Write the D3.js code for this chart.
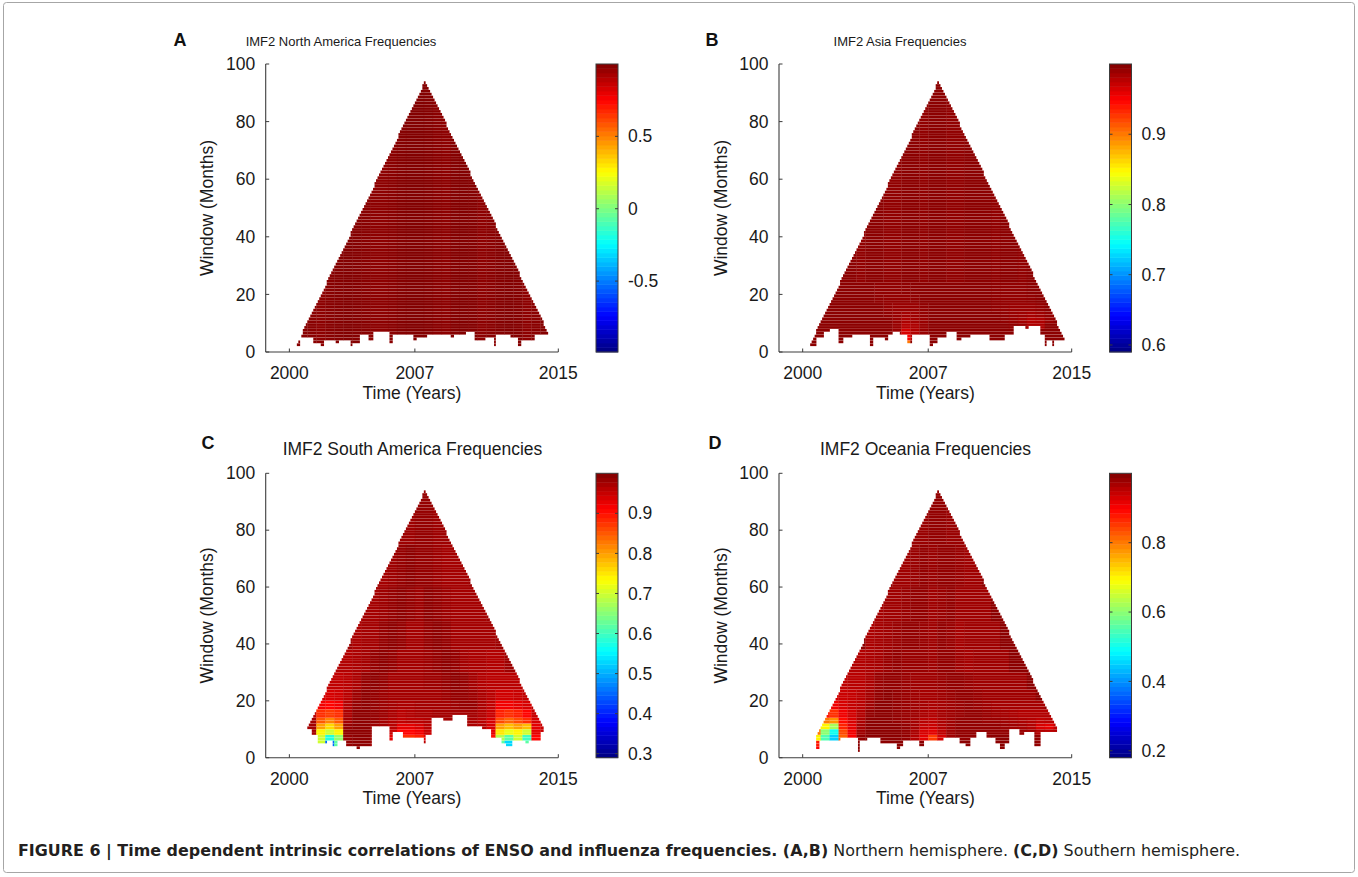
<!DOCTYPE html>
<html>
<head>
<meta charset="utf-8">
<script src="https://cdn.jsdelivr.net/npm/d3@7"></script>
<style>
  html, body { margin: 0; padding: 0; background: #fff; }
  svg { display: block; font-family: "Liberation Sans", Arial, Helvetica, sans-serif; }
</style>
</head>
<body>
<svg id="fig" width="1358" height="877"></svg>
<script>
// ---------------- data ----------------
const panelLetters = ["A", "B", "C", "D"];
const panelTitles = ["IMF2 North America Frequencies", "IMF2 Asia Frequencies",
                     "IMF2 South America Frequencies", "IMF2 Oceania Frequencies"];
const xTickYears = [2000, 2007, 2015];
const yTickWindows = [0, 20, 40, 60, 80, 100];
const colorLimits = [[-0.99, 1.0], [0.59, 1.0], [0.29, 1.0], [0.18, 1.0]];
const colorTicks = [[-0.5, 0, 0.5], [0.6, 0.7, 0.8, 0.9],
                    [0.3, 0.4, 0.5, 0.6, 0.7, 0.8, 0.9], [0.2, 0.4, 0.6, 0.8]];

// sliding window extent, same series length in all panels
const seriesStart = 2000.2, seriesEnd = 2014.95, maxWindow = 94;

// lowest window shown, as steps [from year, window]
const edgeA = [[2000.40, 2.0], [2000.58, 5.2], [2001.30, 2.9], [2001.75, 2.0], [2001.88, 4.1], [2002.55, 3.1],
  [2002.73, 4.1], [2003.39, 2.0], [2003.52, 2.9], [2003.94, 6.0], [2004.41, 4.3], [2004.69, 6.8], [2005.62, 3.1],
  [2005.76, 6.0], [2006.92, 4.3], [2007.11, 5.2], [2007.66, 6.0], [2008.96, 4.9], [2009.15, 6.0], [2009.80, 6.8],
  [2010.36, 4.3], [2010.91, 4.9], [2011.38, 2.5], [2011.52, 6.0], [2012.31, 4.9], [2012.77, 2.5], [2012.90, 4.3],
  [2013.70, 6.0]];
const edgeB = [[2000.31, 2.2], [2000.78, 4.9], [2001.15, 6.8], [2001.52, 8.0], [2002.04, 3.1], [2002.26, 5.2],
  [2002.73, 6.0], [2003.75, 2.2], [2003.94, 5.2], [2004.59, 4.3], [2004.77, 6.0], [2004.96, 6.8], [2005.43, 6.0],
  [2005.80, 3.1], [2006.08, 6.0], [2007.10, 2.2], [2007.28, 3.4], [2007.47, 5.2], [2008.03, 6.8], [2008.59, 4.3],
  [2008.87, 5.2], [2009.33, 6.0], [2010.45, 4.3], [2010.72, 4.1], [2011.28, 5.7], [2011.75, 9.1], [2012.40, 8.0],
  [2012.58, 9.1], [2013.24, 6.0], [2013.52, 2.2], [2013.61, 4.3], [2013.89, 2.2], [2013.98, 4.0]];
const edgeC = [[2000.97, 10.0], [2001.25, 8.3], [2001.62, 5.0], [2002.08, 5.6], [2002.40, 4.1], [2002.64, 6.2],
  [2003.20, 4.1], [2003.75, 2.9], [2003.94, 4.1], [2004.62, 10.9], [2005.55, 5.9], [2005.75, 8.9], [2006.36, 7.2],
  [2007.50, 5.0], [2007.60, 8.0], [2007.94, 14.1], [2008.60, 13.0], [2009.08, 15.0], [2009.94, 11.1],
  [2010.72, 10.1], [2011.28, 7.2], [2011.84, 5.0], [2012.10, 4.5], [2012.40, 5.6], [2013.14, 5.4], [2013.33, 6.2],
  [2013.98, 9.1]];
const edgeD = [[2000.78, 3.0], [2000.88, 6.5], [2001.34, 6.2], [2002.08, 6.8], [2003.10, 2.1], [2003.20, 6.0],
  [2003.57, 6.8], [2004.31, 5.3], [2004.68, 5.0], [2005.24, 3.3], [2005.43, 4.5], [2005.61, 6.4], [2006.17, 6.2],
  [2006.54, 4.1], [2006.73, 6.2], [2007.84, 6.8], [2008.77, 5.0], [2009.05, 3.9], [2009.33, 6.8], [2009.70, 8.8],
  [2010.26, 6.8], [2010.72, 5.0], [2011.00, 3.3], [2011.28, 5.0], [2011.47, 10.0], [2012.12, 8.0], [2012.30, 8.8],
  [2012.95, 4.5], [2013.24, 9.1]];

// correlation grid: half-year columns from 2000.0, rows = window bands (bottom first);
// bands above the last row reuse the last row
const gridYear0 = 2000, gridStep = 0.5;
const bandTops = [4, 6, 8, 10, 12, 14, 17, 20, 24, 30, 38, 48, 60, 75, 100];

const gridA = [
  [.985,.985,.98,.975,.985, .99,.995,.99,.985,.975, .975,.98,.99,.995,.995, .99,.98,.975,.99,.995, .99,.975,.98,.99,.995, .99,.975,.98,.99,.99]
];
const gridB = [
  [.995,.995,.995,.995,.995, .995,.995,.995,.995,.995, .995,.90,.995,.995,.995, .995,.995,.995,.995,.995, .995,.995,.995,.995,.995, .995,.995,.995,.995,.995],
  [.995,.995,.995,.995,.995, .995,.995,.995,.995,.995, .995,.95,.975,.995,.995, .995,.995,.995,.995,.995, .995,.995,.995,.995,.995, .995,.995,.995,.995,.995],
  [.995,.995,.995,.995,.995, .995,.995,.995,.995,.995, .99,.965,.98,.99,.995, .995,.995,.995,.995,.995, .995,.995,.995,.995,.99, .985,.995,.995,.995,.995],
  [.995,.995,.995,.995,.995, .995,.995,.995,.995,.995, .99,.978,.982,.99,.995, .995,.995,.995,.995,.995, .995,.995,.995,.993,.99, .982,.982,.995,.995,.995],
  [.995,.995,.995,.995,.995, .995,.995,.995,.995,.995, .99,.982,.986,.99,.995, .995,.995,.995,.995,.995, .995,.995,.993,.99,.986, .98,.982,.99,.995,.995],
  [.995,.995,.995,.995,.995, .995,.995,.995,.995,.993, .99,.986,.988,.992,.995, .995,.995,.995,.995,.995, .995,.995,.993,.99,.988, .985,.988,.992,.995,.995],
  [.995,.995,.995,.995,.995, .995,.995,.995,.995,.992, .99,.99,.99,.993,.995, .995,.995,.995,.995,.995, .995,.993,.992,.99,.99, .99,.992,.995,.995,.995],
  [.995,.995,.995,.995,.995, .995,.995,.995,.993,.992, .992,.992,.993,.995,.995, .995,.995,.995,.995,.995, .995,.993,.992,.992,.992, .993,.995,.995,.995,.995],
  [.995,.995,.995,.995,.995, .995,.995,.995,.993,.993, .993,.994,.995,.995,.995, .995,.995,.995,.995,.995, .995,.994,.993,.993,.993, .995,.995,.995,.995,.995],
  [.995,.995,.993,.993,.995, .995,.993,.995,.995,.993, .993,.995,.995,.993,.995, .995,.993,.993,.995,.995, .995,.993,.995,.995,.993, .995,.993,.995,.995,.995]
];
const gridC = [
  [.98,.98,.98,.98,.40, .56,.98,.99,.98,.98, .98,.98,.98,.98,.98, .98,.98,.98,.98,.98, .98,.98,.98,.98,.50, .98,.98,.98,.98,.98],
  [.98,.98,.98,.70,.45, .62,.985,.99,.99,.98, .98,.93,.98,.98,.98, .96,.98,.98,.98,.98, .98,.98,.98,.62,.53, .66,.62,.93,.98,.98],
  [.98,.98,.98,.70,.58, .66,.985,.99,.99,.98, .98,.93,.88,.88,.89, .93,.98,.98,.98,.98, .98,.98,.90,.68,.62, .70,.60,.91,.93,.98],
  [.98,.98,.975,.74,.70, .74,.99,.99,.99,.985, .98,.95,.91,.91,.92, .95,.98,.98,.98,.98, .98,.975,.93,.75,.72, .74,.70,.93,.95,.98],
  [.98,.975,.975,.80,.76, .80,.985,.99,.99,.98, .975,.96,.93,.93,.94, .96,.975,.975,.975,.975, .97,.965,.94,.80,.78, .80,.78,.93,.95,.98],
  [.98,.98,.975,.85,.82, .85,.975,.99,.99,.985, .975,.965,.955,.96,.96, .965,.975,.975,.975,.975, .97,.96,.94,.86,.84, .86,.88,.94,.96,.98],
  [.98,.98,.96,.88,.87, .88,.97,.99,.99,.985, .98,.97,.96,.965,.97, .97,.975,.975,.975,.975, .975,.965,.95,.89,.88, .89,.91,.95,.96,.98],
  [.98,.98,.98,.92,.91, .92,.965,.985,.99,.985, .98,.975,.97,.97,.975, .975,.975,.975,.98,.985, .985,.97,.955,.92,.92, .93,.94,.96,.98,.98],
  [.98,.98,.98,.945,.94, .945,.96,.98,.99,.985, .98,.975,.975,.975,.975, .975,.975,.98,.985,.985, .98,.97,.96,.945,.945, .95,.955,.98,.98,.98],
  [.98,.98,.98,.98,.955, .955,.96,.97,.985,.99, .985,.975,.975,.975,.975, .98,.98,.985,.99,.985, .975,.965,.96,.96,.96, .96,.98,.98,.98,.98],
  [.98,.98,.98,.98,.98, .965,.965,.97,.975,.985, .99,.985,.975,.975,.975, .98,.985,.99,.985,.975, .97,.97,.965,.965,.98, .98,.98,.98,.98,.98],
  [.98,.98,.98,.98,.98, .98,.98,.97,.975,.975, .985,.99,.985,.975,.975, .985,.99,.985,.975,.975, .975,.975,.975,.98,.98, .98,.98,.98,.98,.98],
  [.98,.98,.98,.98,.98, .98,.98,.98,.975,.975, .98,.985,.99,.985,.98, .99,.985,.98,.975,.975, .975,.975,.98,.98,.98, .98,.98,.98,.98,.98],
  [.98,.98,.98,.98,.98, .98,.98,.98,.98,.98, .975,.98,.985,.99,.985, .985,.98,.975,.975,.975, .98,.98,.98,.98,.98, .98,.98,.98,.98,.98],
  [.98,.98,.98,.98,.98, .98,.98,.98,.98,.98, .98,.98,.98,.98,.985, .985,.98,.98,.98,.98, .98,.98,.98,.98,.98, .98,.98,.98,.98,.98]
];
const gridD = [
  [.99,.90,.99,.99,.99, .99,.99,.99,.99,.99, .99,.99,.99,.99,.99, .99,.99,.99,.99,.99, .99,.99,.99,.99,.99, .99,.99,.99,.99,.99],
  [.99,.88,.65,.99,.99, .99,.99,.99,.99,.99, .99,.99,.975,.99,.99, .99,.99,.99,.99,.99, .99,.99,.99,.99,.99, .99,.985,.99,.99,.99],
  [.99,.70,.55,.45,.82, .90,.985,.99,.99,.99, .99,.985,.96,.92,.85, .93,.975,.985,.985,.985, .985,.99,.99,.985,.985, .985,.985,.985,.985,.985],
  [.99,.80,.60,.50,.84, .91,.975,.99,.99,.99, .99,.985,.965,.93,.92, .95,.975,.985,.985,.985, .985,.985,.985,.985,.98, .975,.96,.955,.96,.99],
  [.99,.85,.70,.62,.87, .92,.97,.99,.99,.99, .99,.985,.97,.945,.94, .96,.975,.985,.985,.985, .985,.985,.98,.975,.97, .96,.93,.92,.95,.99],
  [.99,.99,.80,.78,.89, .93,.965,.99,.99,.99, .985,.98,.97,.955,.95, .965,.975,.985,.985,.985, .98,.98,.975,.97,.965, .96,.95,.955,.99,.99],
  [.99,.99,.88,.86,.91, .935,.96,.985,.99,.99, .985,.98,.975,.965,.96, .97,.975,.98,.985,.985, .98,.975,.97,.965,.96, .96,.96,.96,.99,.99],
  [.99,.99,.99,.91,.93, .945,.955,.975,.99,.99, .985,.98,.975,.97,.965, .97,.975,.98,.985,.98, .975,.97,.97,.97,.97, .97,.97,.99,.99,.99],
  [.99,.99,.99,.935,.94, .945,.955,.97,.985,.99, .985,.98,.975,.97,.97, .975,.98,.985,.985,.98, .975,.975,.975,.975,.975, .975,.99,.99,.99,.99],
  [.99,.99,.99,.99,.95, .955,.955,.965,.98,.985, .985,.98,.975,.975,.975, .98,.985,.985,.98,.975, .975,.975,.975,.975,.975, .99,.99,.99,.99,.99],
  [.99,.99,.99,.99,.99, .96,.96,.965,.97,.98, .985,.98,.98,.98,.975, .985,.985,.975,.97,.975, .975,.975,.975,.99,.99, .99,.99,.99,.99,.99],
  [.99,.99,.99,.99,.99, .99,.99,.965,.97,.975, .98,.985,.985,.98,.975, .985,.98,.97,.975,.975, .975,.975,.99,.99,.99, .99,.99,.99,.99,.99],
  [.99,.99,.99,.99,.99, .99,.99,.99,.97,.975, .975,.98,.985,.985,.975, .98,.985,.975,.975,.975, .975,.99,.99,.99,.99, .99,.99,.99,.99,.99],
  [.99,.99,.99,.99,.99, .99,.99,.99,.99,.99, .975,.975,.98,.985,.98, .985,.985,.98,.975,.975, .99,.99,.99,.99,.99, .99,.99,.99,.99,.99],
  [.98,.98,.98,.98,.98, .98,.98,.98,.98,.98, .98,.98,.98,.98,.985, .985,.98,.98,.98,.98, .98,.98,.98,.98,.98, .98,.98,.98,.98,.98]
];
const edges = [edgeA, edgeB, edgeC, edgeD];
const grids = [gridA, gridB, gridC, gridD];

// ---------------- layout ----------------
const layout = [
  { px: [265.7, 558.3], py: [64, 352],      cb: [596, 618],       title: [341, 41, 13],      letter: [180, 40],  yLabelX: 207,   xTickY: 373,   xLabelY: 393 },
  { px: [779, 1071.7],  py: [64, 352],      cb: [1109.5, 1131.5], title: [900, 41, 13],      letter: [712, 40],  yLabelX: 720.7, xTickY: 373,   xLabelY: 393 },
  { px: [265.7, 558.3], py: [473.3, 757.7], cb: [596, 618],       title: [412.5, 449, 17.5], letter: [208, 443], yLabelX: 207,   xTickY: 779.3, xLabelY: 798.3 },
  { px: [779, 1071.7],  py: [473.3, 757.7], cb: [1109.5, 1131.5], title: [925.5, 449, 17.5], letter: [715, 443], yLabelX: 720.7, xTickY: 779.3, xLabelY: 798.3 }
];
const axisColor = "#3c3c3c", textColor = "#1a1a1a", fontSize = 17.5;

const jet = d3.scaleLinear()
  .domain([0, 0.125, 0.375, 0.625, 0.875, 1])
  .range(["#000080", "#0000ff", "#00ffff", "#ffff00", "#ff0000", "#800000"])
  .clamp(true);

const svg = d3.select("#fig");

// figure frame
svg.append("rect")
  .attr("x", 3.5).attr("y", 2.5).attr("width", 1351).attr("height", 870)
  .attr("rx", 3).attr("fill", "none").attr("stroke", "#a6a6a6").attr("stroke-width", 1);

const edgeYears = edges.map(e => e.map(d => d[0]));
function lowestWindow(p, t) {
  const i = d3.bisectRight(edgeYears[p], t) - 1;
  return i < 0 ? Infinity : edges[p][i][1];
}
function gridValue(p, t, w) {
  const grid = grids[p];
  const col = Math.max(0, Math.min(grid[0].length - 1, Math.floor((t - gridYear0) / gridStep)));
  const band = Math.min(d3.bisectLeft(bandTops, w), grid.length - 1);
  return grid[band][col];
}

const halfSpan = (seriesEnd - seriesStart) / 2;
const monthIdx = d3.range(0, 15 * 12);

layout.forEach((L, p) => {
  const g = svg.append("g");
  const x = d3.scaleLinear().domain([1998.68, 2015]).range(L.px);
  const y = d3.scaleLinear().domain([0, 100]).range([L.py[1], L.py[0]]);
  const toUnit = d3.scaleLinear().domain(colorLimits[p]).range([0, 1]).clamp(true);

  // build cells: one row per window, runs of equal value merged
  const cells = [];
  for (let w = 0; w < 100; w++) {
    const wc = w + 0.5;
    if (wc > maxWindow) break;
    const lo = seriesStart + halfSpan * wc / maxWindow;
    const hi = seriesEnd - halfSpan * wc / maxWindow;
    let last = null;
    monthIdx.forEach(m => {
      const t0 = 2000 + m / 12, tc = t0 + 1 / 24;
      if (tc < lo || tc > hi || wc < lowestWindow(p, tc)) { last = null; return; }
      const v = gridValue(p, tc, wc);
      if (last && last.v === v) { last.t1 = t0 + 1 / 12; }
      else { last = { w, v, t0, t1: t0 + 1 / 12 }; cells.push(last); }
    });
  }

  g.append("g").selectAll("rect")
    .data(cells)
    .join("rect")
    .attr("x", d => x(d.t0))
    .attr("width", d => x(d.t1) - x(d.t0) + 0.3)
    .attr("y", d => y(d.w + 1))
    .attr("height", d => y(d.w) - y(d.w + 1) - 0.14)
    .attr("fill", d => jet(toUnit(d.v)));

  // axes (left + bottom, ticks inward)
  g.append("line").attr("x1", L.px[0]).attr("x2", L.px[0]).attr("y1", L.py[0]).attr("y2", L.py[1])
    .attr("stroke", axisColor).attr("stroke-width", 1.1);
  g.append("line").attr("x1", L.px[0]).attr("x2", L.px[1]).attr("y1", L.py[1]).attr("y2", L.py[1])
    .attr("stroke", axisColor).attr("stroke-width", 1.1);

  g.selectAll("line.yt").data(yTickWindows).join("line").attr("class", "yt")
    .attr("x1", L.px[0]).attr("x2", L.px[0] + 3.5)
    .attr("y1", d => y(d)).attr("y2", d => y(d))
    .attr("stroke", axisColor);
  g.selectAll("text.yt").data(yTickWindows).join("text").attr("class", "yt")
    .attr("x", L.px[0] - 10.5).attr("y", d => y(d))
    .attr("dy", "0.35em").attr("text-anchor", "end")
    .attr("font-size", fontSize).attr("fill", textColor)
    .text(d => d);

  g.selectAll("line.xt").data(xTickYears).join("line").attr("class", "xt")
    .attr("x1", d => x(d)).attr("x2", d => x(d))
    .attr("y1", L.py[1]).attr("y2", L.py[1] - 3.5)
    .attr("stroke", axisColor);
  g.selectAll("text.xt").data(xTickYears).join("text").attr("class", "xt")
    .attr("x", d => x(d)).attr("y", L.xTickY)
    .attr("dy", "0.35em").attr("text-anchor", "middle")
    .attr("font-size", fontSize).attr("fill", textColor)
    .text(d => d);

  g.append("text")
    .attr("x", (L.px[0] + L.px[1]) / 2).attr("y", L.xLabelY).attr("dy", "0.35em")
    .attr("text-anchor", "middle").attr("font-size", fontSize).attr("fill", textColor)
    .text("Time (Years)");
  g.append("text")
    .attr("transform", `translate(${L.yLabelX},${(L.py[0] + L.py[1]) / 2}) rotate(-90)`)
    .attr("dy", "0.35em").attr("text-anchor", "middle")
    .attr("font-size", fontSize).attr("fill", textColor)
    .text("Window (Months)");

  // title and panel letter
  g.append("text")
    .attr("x", L.title[0]).attr("y", L.title[1]).attr("dy", "0.35em")
    .attr("text-anchor", "middle").attr("font-size", L.title[2]).attr("fill", textColor)
    .text(panelTitles[p]);
  g.append("text")
    .attr("x", L.letter[0]).attr("y", L.letter[1]).attr("dy", "0.35em")
    .attr("text-anchor", "middle").attr("font-size", 18).attr("font-weight", "bold").attr("fill", "#111")
    .text(panelLetters[p]);

  // colorbar
  const cy = d3.scaleLinear().domain(colorLimits[p]).range([L.py[1], L.py[0]]);
  const lim = colorLimits[p];
  const steps = d3.range(64).map(i => ({
    a: lim[0] + (lim[1] - lim[0]) * i / 64,
    b: lim[0] + (lim[1] - lim[0]) * (i + 1) / 64,
    u: (i + 0.5) / 64
  }));
  const cb = g.append("g");
  cb.selectAll("rect").data(steps).join("rect")
    .attr("x", L.cb[0]).attr("width", L.cb[1] - L.cb[0])
    .attr("y", d => cy(d.b)).attr("height", d => cy(d.a) - cy(d.b) + 0.4)
    .attr("fill", d => jet(d.u));
  cb.append("rect")
    .attr("x", L.cb[0]).attr("y", L.py[0]).attr("width", L.cb[1] - L.cb[0]).attr("height", L.py[1] - L.py[0])
    .attr("fill", "none").attr("stroke", axisColor).attr("stroke-width", 1);
  cb.selectAll("line.l").data(colorTicks[p]).join("line").attr("class", "l")
    .attr("x1", L.cb[0]).attr("x2", L.cb[0] + 3)
    .attr("y1", d => cy(d)).attr("y2", d => cy(d)).attr("stroke", axisColor);
  cb.selectAll("line.r").data(colorTicks[p]).join("line").attr("class", "r")
    .attr("x1", L.cb[1] - 3).attr("x2", L.cb[1])
    .attr("y1", d => cy(d)).attr("y2", d => cy(d)).attr("stroke", axisColor);
  cb.selectAll("text").data(colorTicks[p]).join("text")
    .attr("x", L.cb[1] + 10).attr("y", d => cy(d)).attr("dy", "0.35em")
    .attr("font-size", fontSize).attr("fill", textColor)
    .text(d => d);
});

// caption
const cap = svg.append("text")
  .attr("x", 18).attr("y", 856)
  .attr("font-family", "'Liberation Sans Narrow', 'DejaVu Sans Condensed', 'Liberation Sans', sans-serif")
  .attr("font-size", 16.5).attr("fill", "#231f20");
cap.append("tspan").attr("font-weight", "bold")
  .text("FIGURE 6 | Time dependent intrinsic correlations of ENSO and influenza frequencies. (A,B)");
cap.append("tspan").text(" Northern hemisphere. ");
cap.append("tspan").attr("font-weight", "bold").text("(C,D)");
cap.append("tspan").text(" Southern hemisphere.");
cap.attr("textLength", 1222).attr("lengthAdjust", "spacingAndGlyphs");
</script>
</body>
</html>
